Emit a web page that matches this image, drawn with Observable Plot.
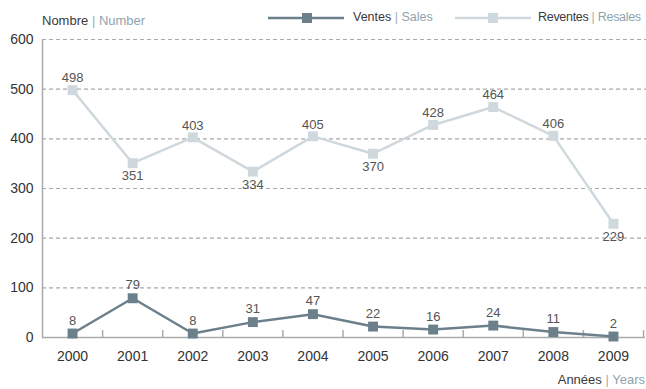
<!DOCTYPE html>
<html>
<head>
<meta charset="utf-8">
<script src="https://cdn.jsdelivr.net/npm/d3@7"></script>
<script src="https://cdn.jsdelivr.net/npm/@observablehq/plot@0.6"></script>
<style>
  html, body { margin: 0; padding: 0; background: #fff; }
  body { width: 646px; height: 389px; overflow: hidden; font-family: "Liberation Sans", Arial, sans-serif; color: #333; }
  #header { position: relative; height: 30px; font-size: 13px; }
  .dark { color: #3a3a3a; }
  .sep { color: #aaa; }
  .light { color: #8fa3ae; }
  #ylab { position: absolute; left: 42px; top: 13px; }
  .leg { position: absolute; top: 7px; white-space: nowrap; }
  .leg svg { position: absolute; left: 0; top: 1px; }
  .leg .txt { position: absolute; top: 3px; white-space: nowrap; font-size: 12.5px; }
  #caption { height: 21px; font-size: 13px; text-align: right; padding-right: 1px; line-height: 24px; }
  svg text { font-family: "Liberation Sans", Arial, sans-serif; }
</style>
</head>
<body>
<div id="header">
  <div id="ylab"><span class="dark">Nombre</span> <span class="sep">|</span> <span class="light">Number</span></div>
  <div class="leg" style="left:268px"><svg width="76" height="20"><line x1="0" x2="76" y1="10" y2="10" stroke="#6c808b" stroke-width="2.5"/><rect x="34" y="5" width="10" height="10" fill="#6c808b"/></svg><span class="txt" style="left:85px"><span class="dark">Ventes</span> <span class="sep">|</span> <span class="light">Sales</span></span></div>
  <div class="leg" style="left:455px"><svg width="76" height="20"><line x1="0" x2="76" y1="10" y2="10" stroke="#cfd8dd" stroke-width="2.5"/><rect x="33" y="5" width="10" height="10" fill="#cfd8dd"/></svg><span class="txt" style="left:83px; letter-spacing:-0.3px"><span class="dark">Reventes</span> <span class="sep">|</span> <span class="light">Resales</span></span></div>
</div>
<div id="chart"></div>
<div id="caption"><span class="dark">Années</span> <span class="sep">|</span> <span class="light">Years</span></div>
<script>
const years = [2000, 2001, 2002, 2003, 2004, 2005, 2006, 2007, 2008, 2009];
const ventes = [8, 79, 8, 31, 47, 22, 16, 24, 11, 2];
const reventes = [498, 351, 403, 334, 405, 370, 428, 464, 406, 229];
// label position for resales: 1 = above, -1 = below
const reventesLabelPos = [1, -1, 1, -1, 1, -1, 1, 1, 1, -1];
const yTicks = [0, 100, 200, 300, 400, 500, 600];
const gridTicks = [100, 200, 300, 400, 500, 600];

const darkC = "#6c808b";
const lightC = "#cfd8dd";

const sales = years.map((y, i) => ({year: y, value: ventes[i]}));
const resales = years.map((y, i) => ({year: y, value: reventes[i], pos: reventesLabelPos[i]}));
const bounds = years.map(y => y + 0.5);
const xDomain = [years[0] - 0.5, years[years.length - 1] + 0.5];

const plot = Plot.plot({
  width: 646,
  height: 338,
  marginTop: 9,
  marginBottom: 31,
  marginLeft: 42,
  marginRight: 3,
  style: {fontSize: "14px", fontFamily: "Liberation Sans, Arial, sans-serif", color: "#333"},
  x: {domain: xDomain},
  y: {domain: [0, 600]},
  marks: [
    Plot.ruleY(gridTicks, {stroke: "#aaa", strokeDasharray: "4,3", strokeWidth: 1.2, strokeOpacity: 1, insetRight: -3}),
    Plot.ruleY([0], {stroke: "#aaa", strokeWidth: 1.5, insetRight: -2}),
    Plot.ruleX([xDomain[0]], {stroke: "#aaa", strokeWidth: 1.5}),
    Plot.axisY({ticks: yTicks, tickSize: 0, tickPadding: 9, label: null, fill: "#333", fontSize: 14}),
    Plot.axisX({ticks: years, tickSize: 0, tickPadding: 14, tickFormat: d => String(d), label: null, fill: "#333", fontSize: 14}),
    Plot.axisX({ticks: bounds, tickSize: -7, tickFormat: () => "", label: null, stroke: "#aaa", strokeWidth: 1.5}),
    Plot.line(resales, {x: "year", y: "value", stroke: lightC, strokeWidth: 2.5}),
    Plot.dot(resales, {x: "year", y: "value", symbol: "square", r: 5.6, fill: lightC, stroke: "none"}),
    Plot.line(sales, {x: "year", y: "value", stroke: darkC, strokeWidth: 2.5}),
    Plot.dot(sales, {x: "year", y: "value", symbol: "square", r: 5.6, fill: darkC, stroke: "none"}),
    Plot.text(resales.filter(d => d.pos > 0), {x: "year", y: "value", text: d => String(d.value), dy: -12, fill: "#555", fontSize: 13}),
    Plot.text(resales.filter(d => d.pos < 0), {x: "year", y: "value", text: d => String(d.value), dy: 13, fill: "#555", fontSize: 13}),
    Plot.text(sales, {x: "year", y: "value", text: d => String(d.value), dy: -13, fill: "#555", fontSize: 13})
  ]
});
document.getElementById("chart").appendChild(plot);
</script>
</body>
</html>
